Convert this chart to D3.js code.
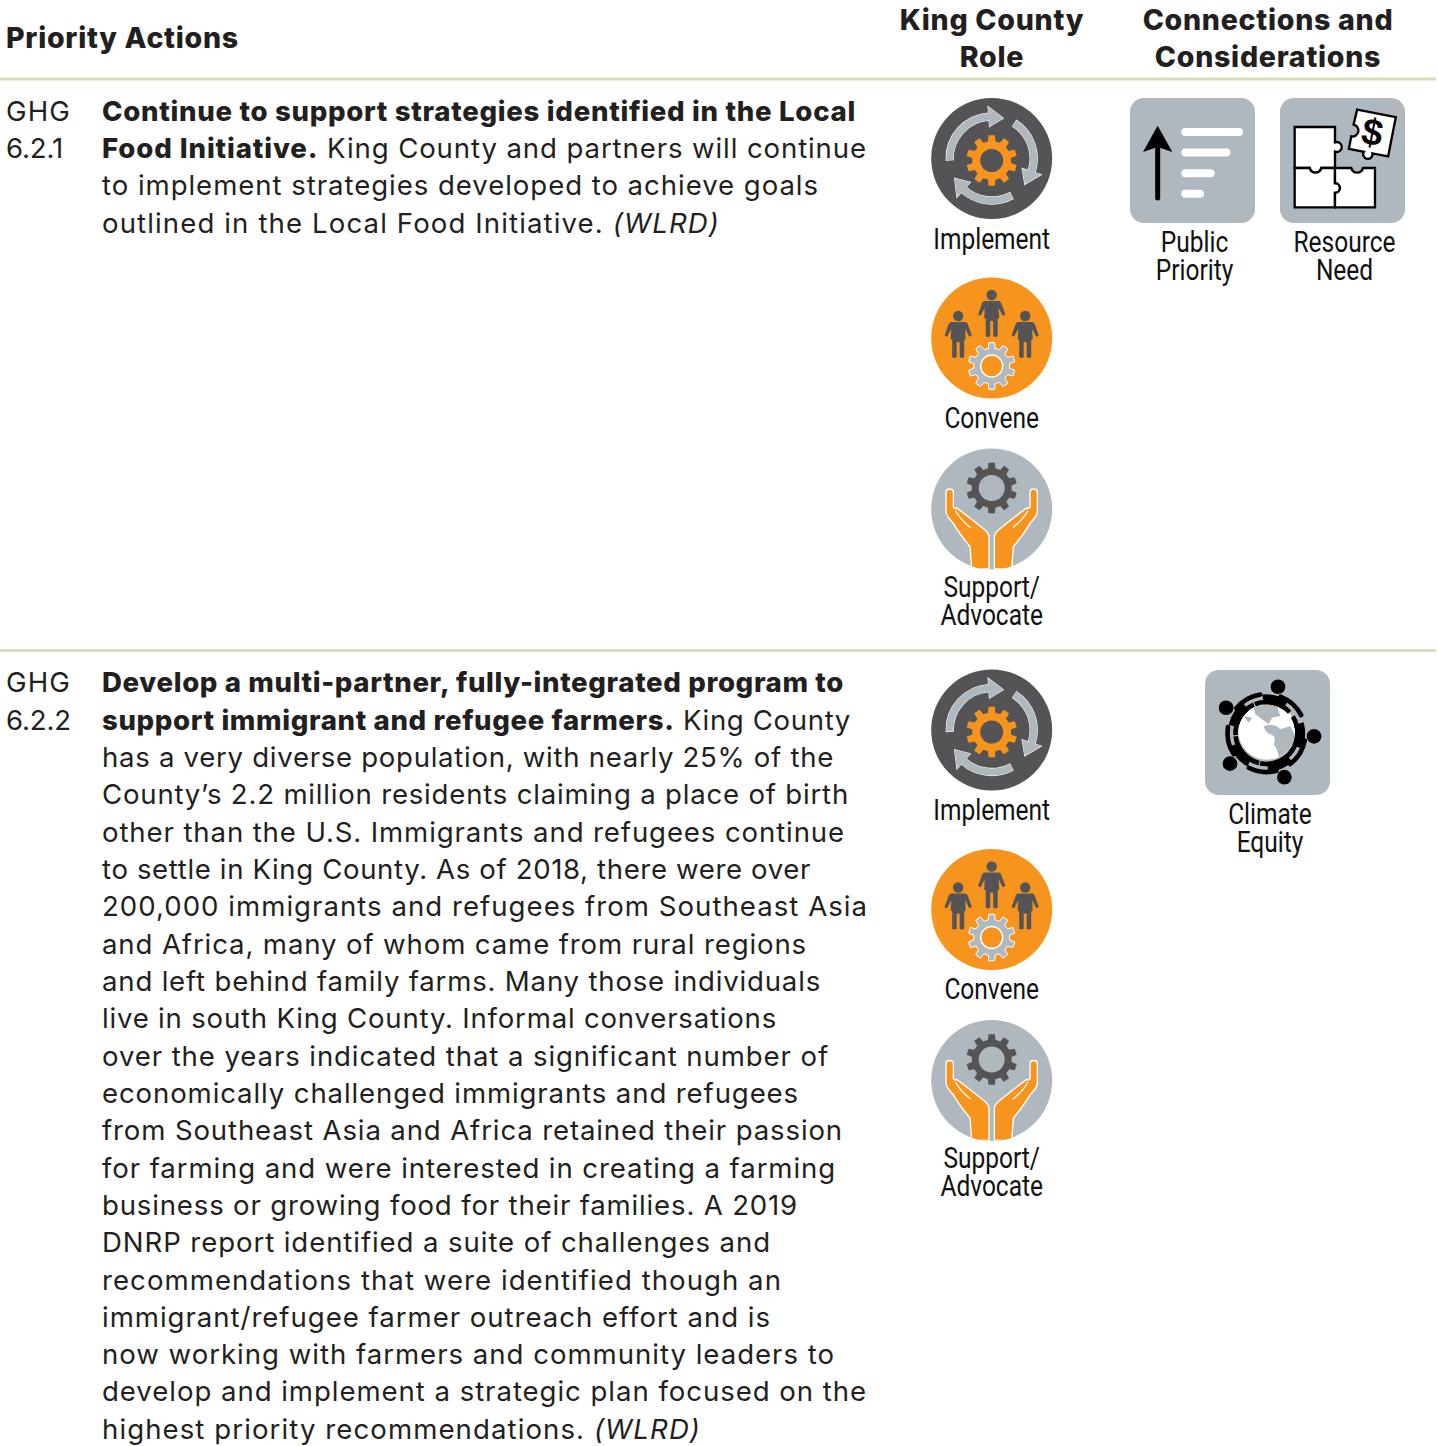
<!DOCTYPE html>
<html><head><meta charset="utf-8">
<script src="https://cdn.jsdelivr.net/npm/d3@7/dist/d3.min.js"></script>
<style>html,body{margin:0;padding:0;background:#fff}svg{display:block}</style>
</head><body><div id="c"></div>
<script>
const headers = ["Priority Actions", ["King County","Role"], ["Connections and","Considerations"]];
const codes = [["GHG","6.2.1"],["GHG","6.2.2"]];
// runs: [text, style] b=bold, i=italic, n=normal
const text1 = [
 [["Continue to support strategies identified in the Local","b"]],
 [["Food Initiative.","b"],[" King County and partners will continue","n"]],
 [["to implement strategies developed to achieve goals","n"]],
 [["outlined in the Local Food Initiative. ","n"],["(WLRD)","i"]]
];
const text2 = [
 [["Develop a multi-partner, fully-integrated program to","b"]],
 [["support immigrant and refugee farmers.","b"],[" King County","n"]],
 [["has a very diverse population, with nearly 25% of the","n"]],
 [["County’s 2.2 million residents claiming a place of birth","n"]],
 [["other than the U.S. Immigrants and refugees continue","n"]],
 [["to settle in King County. As of 2018, there were over","n"]],
 [["200,000 immigrants and refugees from Southeast Asia","n"]],
 [["and Africa, many of whom came from rural regions","n"]],
 [["and left behind family farms. Many those individuals","n"]],
 [["live in south King County. Informal conversations","n"]],
 [["over the years indicated that a significant number of","n"]],
 [["economically challenged immigrants and refugees","n"]],
 [["from Southeast Asia and Africa retained their passion","n"]],
 [["for farming and were interested in creating a farming","n"]],
 [["business or growing food for their families. A 2019","n"]],
 [["DNRP report identified a suite of challenges and","n"]],
 [["recommendations that were identified though an","n"]],
 [["immigrant/refugee farmer outreach effort and is","n"]],
 [["now working with farmers and community leaders to","n"]],
 [["develop and implement a strategic plan focused on the","n"]],
 [["highest priority recommendations. ","n"],["(WLRD)","i"]]
];
const roleNames = [["Implement"],["Convene"],["Support/","Advocate"]];
const connections1 = [["public",["Public","Priority"]],["resource",["Resource","Need"]]];
const connections2 = [["climate",["Climate","Equity"]]];

// layout only: right-hand end of each typeset line
const fitCodes1=[71,63], fitCodes2=[71,71];
const fit1=[856,867,819,720];
const fit2=[844,851,834,849,845,811,868,807,821,777,829,799,843,836,798,771,782,771,835,867,701];

const W=1438,H=1446, DARK="#545456", ORANGE="#f7941e", GREY="#b0b8bf", INK="#231f20", RULE="#d8deba";
const BODY="Inter, sans-serif", SIZE=27.6, SPACING=0.98, BOLDSP=0.72;
const svg=d3.select("#c").append("svg").attr("width",W).attr("height",H).attr("viewBox",`0 0 ${W} ${H}`);
const lineY=d3.scaleLinear().domain([0,1]).range([0,37.325]);

function bodyLines(x,y0,lines,fit){
  const g=svg.append("g").attr("font-family",BODY).attr("font-size",SIZE).attr("fill",INK);
  const t=g.selectAll("text").data(lines).join("text").attr("x",x).attr("y",(d,i)=>y0+lineY(i)).attr("letter-spacing",0);
  t.selectAll("tspan").data(d=>d).join("tspan").text(d=>d[0])
   .attr("font-weight",d=>d[1]=="b"?800:400).attr("font-style",d=>d[1]=="i"?"italic":"normal")
   .attr("letter-spacing",0).style("white-space","pre");
  t.each(function(d,i){
    const n=d.reduce((a,r)=>a+r[0].length,0);
    const sp=(fit[i]-x-this.getComputedTextLength())/n;
    d3.select(this).selectAll("tspan").attr("letter-spacing",sp);
  });
}
function heads(lines,cx,y0){
  svg.append("g").attr("font-family",BODY).attr("font-size",28.6).attr("font-weight",800).attr("fill",INK).attr("text-anchor","middle").attr("letter-spacing",0.7)
   .selectAll("text").data(lines).join("text").attr("x",cx).attr("y",(d,i)=>y0+lineY(i)).text(d=>d);
}
function label(lines,cx,y0){
  const g=svg.append("g").attr("transform",`translate(${cx},${y0}) scale(0.845,1)`);
  g.selectAll("text").data(lines).join("text").attr("text-anchor","middle").attr("y",(d,i)=>i*28)
   .attr("font-family","Roboto, sans-serif").attr("font-size",29).attr("fill","#111").text(d=>d);
}
// header
svg.append("text").attr("x",6).attr("y",48).attr("font-family",BODY).attr("font-size",28.6).attr("font-weight",800).attr("letter-spacing",0.7).attr("fill",INK).text(headers[0]);
heads(headers[1],992,30); heads(headers[2],1268,30);
svg.selectAll("line.r").data([79,650.5]).join("line").attr("x1",0).attr("x2",1436).attr("y1",d=>d).attr("y2",d=>d).attr("stroke",RULE).attr("stroke-width",3);
bodyLines(6,120.8,codes[0].map(s=>[[s,"n"]]),fitCodes1);
bodyLines(6,692.3,codes[1].map(s=>[[s,"n"]]),fitCodes2);
bodyLines(102,120.8,text1,fit1);
bodyLines(102,692.3,text2,fit2);

function gearPath(n,ro,ri,hole){
  const a=[],step=2*Math.PI/n;
  for(let k=0;k<n;k++){
    const c=k*step-Math.PI/2, w=step*0.2, s=step*0.3;
    [[c-s,ri],[c-w,ro],[c+w,ro],[c+s,ri]].forEach(([t,r])=>a.push([r*Math.cos(t),r*Math.sin(t)]));
  }
  let p="M"+a.map(q=>q.map(v=>v.toFixed(2)).join(",")).join("L")+"Z";
  if(hole) p+=`M${hole},0A${hole},${hole} 0 1 0 ${-hole},0A${hole},${hole} 0 1 0 ${hole},0Z`;
  return p;
}
const rad=d=>d*Math.PI/180;
function arrow(g,a0,a1,r,w,hw){
  const arc=d3.arc()({innerRadius:r-w,outerRadius:r+w,startAngle:rad(a0),endAngle:rad(a1)});
  const pt=(ang,rr)=>[rr*Math.sin(rad(ang)),-rr*Math.cos(rad(ang))];
  const head=[pt(a1,r-hw),pt(a1+20,r),pt(a1,r+hw)];
  g.append("path").attr("d",arc+"M"+head.join("L")+"Z").attr("fill",GREY).attr("stroke","#fff").attr("stroke-width",1.1).attr("paint-order","stroke");
}
function implement(cx,cy){
  const g=svg.append("g").attr("transform",`translate(${cx},${cy})`);
  g.append("circle").attr("r",60.5).attr("fill",DARK);
  arrow(g,-92,-4,42,3.6,10);arrow(g,33,108,42,3.6,10);arrow(g,152,222,42,3.6,10);
  g.append("path").attr("transform","translate(0,2)").attr("d",gearPath(10,25.5,19.5,11.5)).attr("fill",ORANGE).attr("fill-rule","evenodd");
}
function person(g,x,y){
  const p=g.append("g").attr("transform",`translate(${x},${y})`);
  p.append("circle").attr("cy",5).attr("r",5.2).attr("fill",DARK);
  p.append("path").attr("fill",DARK).attr("d","M-7,11L7,11Q8.5,11 9.5,13L13.5,24Q13,26 11,25.5L7,18L7.5,28L6,29V46Q4,48 1.5,46V31H-1.5V46Q-4,48 -6,46V29L-7.5,28L-7,18L-11,25.5Q-13,26 -13.5,24L-9.5,13Q-8.5,11 -7,11Z");
}
function convene(cx,cy){
  const g=svg.append("g").attr("transform",`translate(${cx},${cy})`);
  g.append("circle").attr("r",60.5).attr("fill",ORANGE);
  person(g,0,-48);person(g,-33.5,-27);person(g,33.5,-27);
  g.append("path").attr("transform","translate(0,28)").attr("d",gearPath(10,23.5,18,0)).attr("fill",GREY).attr("stroke","#fff").attr("stroke-width",1);
  g.append("circle").attr("cy",28).attr("r",11).attr("fill",ORANGE).attr("stroke","#fff").attr("stroke-width",1.4);
}
function support(cx,cy){
  const g=svg.append("g").attr("transform",`translate(${cx},${cy})`);
  g.append("circle").attr("r",60.5).attr("fill",GREY);
  g.append("path").attr("transform","translate(0,-21)").attr("d",gearPath(10,25.5,20,13)).attr("fill",DARK).attr("fill-rule","evenodd");
  const hand="M-137,-50Q-137,-60 -126,-60Q-115,-60 -115,-50V-5Q-108,0 -105,-3L-70,23Q-45,43 -20,63Q-8,75 -8,83V180H-60L-65,113Q-100,70 -115,43Q-137,20 -137,8Z";
  const clipId="hc"+Math.round(cy);
  g.append("clipPath").attr("id",clipId).append("circle").attr("r",60.5);
  const h=g.append("g").attr("clip-path",`url(#${clipId})`).append("g").attr("transform","scale(0.3333)");
  [1,-1].forEach(s=>{
    const q=h.append("g").attr("transform",`scale(${s},1)`);
    q.append("path").attr("d",hand).attr("fill",ORANGE).attr("stroke","#fff").attr("stroke-width",4);
    q.append("path").attr("d","M-108,6Q-95,30 -65,55").attr("fill","none").attr("stroke","#fff").attr("stroke-width",4).attr("stroke-linecap","round");
  });
}
function square(x,y){
  const g=svg.append("g").attr("transform",`translate(${x},${y})`);
  g.append("rect").attr("width",125).attr("height",125).attr("rx",14).attr("fill",GREY);
  return g;
}
function publicIcon(x,y){
  const g=square(x,y).append("g").attr("transform","scale(0.3333) translate(-631,-25)");
  g.append("line").attr("x1",714).attr("x2",714).attr("y1",325).attr("y2",160).attr("stroke","#000").attr("stroke-width",15).attr("stroke-linecap","round");
  g.append("path").attr("d","M714,108L758,187L714,172L670,187Z").attr("fill","#000");
  g.selectAll("rect").data([185,147,100,68]).join("rect").attr("x",785).attr("y",(d,i)=>115+i*61.7).attr("width",d=>d).attr("height",24).attr("rx",12).attr("fill","#fff");
}
function resourceIcon(x,y){
  const g=square(x,y).append("g").attr("transform","scale(0.3333) translate(-1081,-25)");
  const st=s=>s.attr("fill","#fff").attr("stroke","#000").attr("stroke-width",7).attr("stroke-linejoin","miter");
  st(g.append("path")).attr("d","M1125,112H1246V158A15,15 0 1 1 1246,186V235H1205A18,18 0 0 1 1170,235H1125Z");
  st(g.append("path")).attr("d","M1125,235H1170A18,18 0 0 0 1205,235H1246V280A15,15 0 1 1 1246,310V353H1125Z");
  st(g.append("path")).attr("d","M1246,235H1295A18,18 0 0 0 1330,235H1366V353H1246V310A15,15 0 1 0 1246,280Z");
  const d=g.append("g").attr("transform","translate(1358,130) rotate(11)");
  st(d.append("path")).attr("d","M-58,-60H60V60H12A14,14 0 1 1 -14,60H-60V22A14,14 0 1 0 -60,-14Z");
  d.append("text").attr("text-anchor","middle").attr("y",36).attr("font-family","Liberation Sans, sans-serif").attr("font-weight",700).attr("font-size",112).attr("fill","#000").text("$");
}
function climateIcon(x,y){
  const s=square(x,y);
  const w=s.append("g").attr("transform","translate(62,61) scale(0.3333)");
  w.append("circle").attr("r",86).attr("fill","#fff");
  const grey=["M-40,-70Q-10,-85 30,-75L40,-45L15,-40L5,-20L-15,-35L-35,-50Z","M-10,-15Q25,-25 40,-5L70,-15L85,15Q75,60 35,78Q30,50 20,40Q30,15 10,10Q-5,5 -10,-15Z","M-70,-45L-55,-25L-45,-40Z"];
  w.selectAll("path.l").data(grey).join("path").attr("d",d=>d).attr("fill",GREY);
  const g=s.append("g").attr("transform","translate(61.5,63) scale(0.3333)");
  const angs=[14,94,158,230,302];
  angs.forEach(a=>{
    const pt=(r,aa)=>[r*Math.sin(rad(aa)),-r*Math.cos(rad(aa))];
    const hp=pt(143,a);
    g.append("circle").attr("cx",hp[0]).attr("cy",hp[1]).attr("r",22).attr("fill","#000");
    g.append("path").attr("d",d3.arc()({innerRadius:86,outerRadius:116,startAngle:rad(a-20),endAngle:rad(a+20)})).attr("fill","#000");
    g.append("path").attr("d",d3.arc()({innerRadius:86,outerRadius:100,startAngle:rad(a-36),endAngle:rad(a+34)})).attr("fill","#000");
    g.append("path").attr("d",d3.arc().cornerRadius(6)({innerRadius:110,outerRadius:124,startAngle:rad(a+4),endAngle:rad(a+52)})).attr("fill","#000");
  });
}
const roleDraw=[implement,convene,support];
const roleCy=[158.5,338,509], roleLab=[249,428,597];
[0,571.5].forEach(dy=>{
  roleDraw.forEach((f,i)=>{f(991.7,roleCy[i]+dy);label(roleNames[i],991.7,roleLab[i]+Math.floor(dy));});
});
publicIcon(1130,98);label(connections1[0][1],1194.5,252);
resourceIcon(1280,98);label(connections1[1][1],1344.5,252);
climateIcon(1205,670);label(connections2[0][1],1270,824);
</script></body></html>
